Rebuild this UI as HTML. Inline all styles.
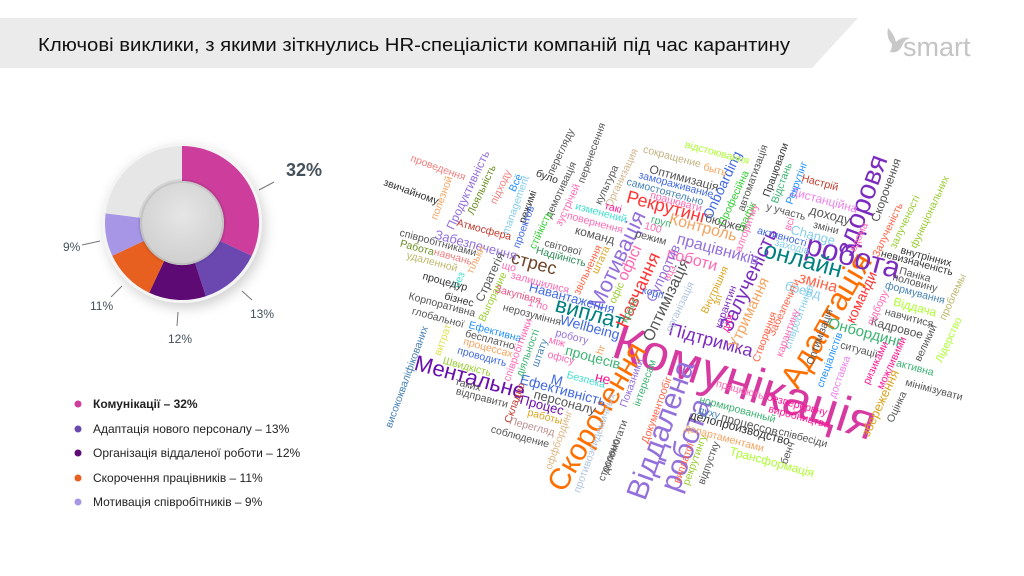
<!DOCTYPE html>
<html><head><meta charset="utf-8"><style>
html,body{margin:0;padding:0;background:#fff;}
svg{display:block;font-family:"Liberation Sans","DejaVu Sans",sans-serif;}
</style></head><body>
<svg width="1024" height="576" viewBox="0 0 1024 576" xmlns="http://www.w3.org/2000/svg">
<defs>
<filter id="sh" x="-30%" y="-30%" width="160%" height="160%"><feDropShadow dx="3" dy="5" stdDeviation="6" flood-color="#000" flood-opacity="0.18"/></filter>
<radialGradient id="hole" cx="50%" cy="40%" r="60%"><stop offset="0" stop-color="#e6e6e6"/><stop offset="1" stop-color="#cfcfcf"/></radialGradient>
</defs>
<path d="M0 18 H858 L812 68 H0 Z" fill="#ebebeb"/>
<text x="38" y="51" font-size="18.5" fill="#111" textLength="752" lengthAdjust="spacingAndGlyphs">Ключові виклики, з якими зіткнулись HR-спеціалісти компаній під час карантину</text>
<path d="M888 28 q6 6 8 14 q6 -6 14 -4 q-6 2 -8 8 q-4 8 -12 6 q2 -4 2 -8 q-6 -6 -4 -16z" fill="#c8c8c8"/>
<text x="903" y="56" font-size="27" fill="#c4c4c4" font-weight="300">smart</text>

<g filter="url(#sh)"><circle cx="182" cy="223" r="80" fill="#f4f4f4"/></g>
<path d="M182 146 A77 77 0 0 1 251.7 255.8 L220 240.9 A42 42 0 0 0 182 181Z" fill="#cc3d9c"/>
<path d="M251.7 255.8 A77 77 0 0 1 205.8 296.2 L195 263 A42 42 0 0 0 220 240.9Z" fill="#6a48b0"/>
<path d="M205.8 296.2 A77 77 0 0 1 149.2 292.7 L164.1 261 A42 42 0 0 0 195 263Z" fill="#5e0a75"/>
<path d="M149.2 292.7 A77 77 0 0 1 112.3 255.8 L144 240.9 A42 42 0 0 0 164.1 261Z" fill="#e8601f"/>
<path d="M112.3 255.8 A77 77 0 0 1 105.6 213.4 L140.3 217.7 A42 42 0 0 0 144 240.9Z" fill="#a796e6"/>
<path d="M105.6 213.4 A77 77 0 0 1 182 146 L182 181 A42 42 0 0 0 140.3 217.7Z" fill="#e6e6e6"/>
<circle cx="182" cy="223" r="42" fill="url(#hole)"/>
<circle cx="182" cy="223" r="42" fill="none" stroke="#000" stroke-opacity="0.08" stroke-width="4"/>
<g stroke="#777" stroke-width="1">
<line x1="259" y1="190" x2="274" y2="182"/><line x1="242" y1="291" x2="252" y2="300"/>
<line x1="178" y1="312" x2="177" y2="326"/><line x1="122" y1="286" x2="111" y2="297"/>
<line x1="100" y1="241" x2="82" y2="245"/></g>
<g fill="#44505a" font-size="12">
<text x="286" y="176" font-size="18" font-weight="bold">32%</text>
<text x="250" y="318">13%</text><text x="168" y="343">12%</text>
<text x="90" y="310">11%</text><text x="63" y="251">9%</text></g>

<g font-size="12" fill="#222">
<circle cx="78" cy="404" r="3.5" fill="#cc3d9c"/><text x="93" y="408" font-weight="bold">Комунікації – 32%</text>
<circle cx="78" cy="429" r="3.5" fill="#6a48b0"/><text x="93" y="433">Адаптація нового персоналу – 13%</text>
<circle cx="78" cy="453" r="3.5" fill="#5e0a75"/><text x="93" y="457">Організація віддаленої роботи – 12%</text>
<circle cx="78" cy="478" r="3.5" fill="#e8601f"/><text x="93" y="482">Скорочення працівників – 11%</text>
<circle cx="78" cy="502" r="3.5" fill="#a796e6"/><text x="93" y="506">Мотивація співробітників – 9%</text>
</g>

<g text-anchor="middle" dominant-baseline="central">
<text x="745" y="382" font-size="50" fill="#d63aa1" transform="rotate(18 745 382)">Комунікація</text>
<text x="597" y="417" font-size="30" fill="#ff6f00" transform="rotate(-60 597 417)">Скорочення</text>
<text x="661" y="430" font-size="30" fill="#9370db" transform="rotate(-70 661 430)">Віддалена</text>
<text x="686" y="445" font-size="30" fill="#9370db" transform="rotate(-70 686 445)">робота</text>
<text x="826" y="320" font-size="32" fill="#ff6f00" transform="rotate(-60 826 320)">Адаптація</text>
<text x="853" y="257" font-size="30" fill="#7b2cbf" transform="rotate(15 853 257)">робота</text>
<text x="861" y="205" font-size="28" fill="#7b2cbf" transform="rotate(-70 861 205)">здоровя</text>
<text x="803" y="260" font-size="24" fill="#008080" transform="rotate(15 803 260)">онлайн</text>
<text x="749" y="280" font-size="20" fill="#7b2cbf" transform="rotate(-65 749 280)">Залученість</text>
<text x="617" y="260" font-size="22" fill="#9370db" transform="rotate(-65 617 260)">Мотивація</text>
<text x="470" y="377" font-size="22" fill="#6a0dad" transform="rotate(15 470 377)">Ментальне</text>
<text x="667" y="207" font-size="18" fill="#ff3333" transform="rotate(15 667 207)">Рекрутинг</text>
<text x="590" y="313" font-size="22" fill="#008080" transform="rotate(15 590 313)">виплат</text>
<text x="711" y="340" font-size="18" fill="#7b2cbf" transform="rotate(15 711 340)">Підтримка</text>
<text x="534" y="263" font-size="18" fill="#6b4226" transform="rotate(15 534 263)">стрес</text>
<text x="638" y="290" font-size="18" fill="#ff3333" transform="rotate(-65 638 290)">Навчання</text>
<text x="667" y="300" font-size="16" fill="#555" transform="rotate(-65 667 300)">Оптимізація</text>
<text x="749" y="313" font-size="15" fill="#f4a460" transform="rotate(-65 749 313)">Утримання</text>
<text x="703" y="228" font-size="16" fill="#f4a460" transform="rotate(15 703 228)">Контроль</text>
<text x="692" y="260" font-size="16" fill="#ff69b4" transform="rotate(15 692 260)">роботи</text>
<text x="718" y="250" font-size="16" fill="#9370db" transform="rotate(15 718 250)">працівників</text>
<text x="818" y="283" font-size="16" fill="#ff6347" transform="rotate(15 818 283)">зміна</text>
<text x="865" y="333" font-size="15" fill="#3cb371" transform="rotate(15 865 333)">Онбординг</text>
<text x="722" y="185" font-size="14" fill="#4169e1" transform="rotate(-65 722 185)">Onboarding</text>
<text x="663" y="273" font-size="14" fill="#9370db" transform="rotate(-65 663 273)">Супротив</text>
<text x="630" y="263" font-size="16" fill="#ff69b4" transform="rotate(-65 630 263)">офісі</text>
<text x="861" y="297" font-size="14" fill="#ff3333" transform="rotate(-65 861 297)">команди</text>
<text x="572" y="298" font-size="13" fill="#4169e1" transform="rotate(15 572 298)">Навантаження</text>
<text x="590" y="327" font-size="14" fill="#4169e1" transform="rotate(15 590 327)">Wellbeing</text>
<text x="593" y="357" font-size="14" fill="#3cb371" transform="rotate(15 593 357)">процесів</text>
<text x="563" y="390" font-size="14" fill="#4169e1" transform="rotate(15 563 390)">Ефективність</text>
<text x="880" y="403" font-size="13" fill="#daa520" transform="rotate(-65 880 403)">збереження</text>
<text x="476" y="245" font-size="13" fill="#9370db" transform="rotate(15 476 245)">Забезпечення</text>
<text x="468" y="190" font-size="12" fill="#9370db" transform="rotate(-65 468 190)">Продуктивність</text>
<text x="813" y="235" font-size="13" fill="#87ceeb" transform="rotate(15 813 235)">Change</text>
<text x="830" y="215" font-size="13" fill="#555" transform="rotate(15 830 215)">доходу</text>
<text x="803" y="290" font-size="13" fill="#87ceeb" transform="rotate(15 803 290)">бренд</text>
<text x="897" y="328" font-size="12" fill="#555" transform="rotate(15 897 328)">Кадровое</text>
<text x="915" y="307" font-size="12" fill="#adff2f" transform="rotate(15 915 307)">Віддача</text>
<text x="684" y="178" font-size="12" fill="#555" transform="rotate(15 684 178)">Оптимизація</text>
<text x="824" y="200" font-size="12" fill="#ee82ee" transform="rotate(15 824 200)">Дистанційна</text>
<text x="886" y="190" font-size="12" fill="#555" transform="rotate(-70 886 190)">Скорочення</text>
<text x="726" y="223" font-size="12" fill="#555" transform="rotate(15 726 223)">бюджет</text>
<text x="595" y="235" font-size="12" fill="#555" transform="rotate(15 595 235)">команд</text>
<text x="490" y="277" font-size="12" fill="#555" transform="rotate(-65 490 277)">Стратегія</text>
<text x="740" y="428" font-size="12" fill="#333" transform="rotate(15 740 428)">делопроизводство</text>
<text x="753" y="425" font-size="12" fill="#555" transform="rotate(15 753 412)">процессов</text>
<text x="772" y="462" font-size="12" fill="#adff2f" transform="rotate(15 772 462)">Трансформація</text>
<text x="565" y="402" font-size="13" fill="#555" transform="rotate(15 565 402)">персоналу</text>
<text x="542" y="405" font-size="13" fill="#6a0dad" transform="rotate(15 542 405)">Процес</text>
<text x="603" y="378" font-size="14" fill="#ff1493" transform="rotate(15 603 378)">не</text>
<text x="557" y="380" font-size="14" fill="#4169e1" transform="rotate(15 557 380)">М</text>
<g font-size="10.5">
<text x="438" y="168" fill="#f08080" transform="rotate(20 438 168)">проведення</text>
<text x="442" y="198" fill="#f4a460" transform="rotate(-70 442 198)">полезной</text>
<text x="411" y="192" fill="#333" transform="rotate(20 411 192)">звичайному</text>
<text x="482" y="190" fill="#6b8e23" transform="rotate(-65 482 190)">Лояльність</text>
<text x="501" y="187" fill="#f08080" transform="rotate(-65 501 187)">підходу</text>
<text x="516" y="183" fill="#1e90ff" transform="rotate(-65 516 183)">Всё</text>
<text x="516" y="205" fill="#87ceeb" transform="rotate(-70 516 205)">management</text>
<text x="528" y="207" fill="#333" transform="rotate(-70 528 207)">режимі</text>
<text x="524" y="227" fill="#4169e1" transform="rotate(-70 524 227)">проектов</text>
<text x="547" y="177" fill="#333" transform="rotate(20 547 177)">було</text>
<text x="561" y="152" fill="#555" transform="rotate(-65 561 152)">перегляду</text>
<text x="561" y="190" fill="#555" transform="rotate(-65 561 190)">демотивація</text>
<text x="592" y="153" fill="#555" transform="rotate(-70 592 153)">перенесення</text>
<text x="568" y="205" fill="#ff69b4" transform="rotate(-65 568 205)">зустрічей</text>
<text x="484" y="230" fill="#c0392b" transform="rotate(15 484 230)">Атмосфера</text>
<text x="438" y="243" fill="#555" transform="rotate(15 438 243)">співробітниками</text>
<text x="417" y="248" fill="#6b8e23" transform="rotate(15 417 248)">Работа</text>
<text x="453" y="257" fill="#f08080" transform="rotate(15 453 257)">навчань</text>
<text x="432" y="262" fill="#bdb76b" transform="rotate(15 432 262)">удаленной</text>
<text x="476" y="260" fill="#f4a460" transform="rotate(-65 476 260)">тільки</text>
<text x="459" y="280" fill="#40e0d0" transform="rotate(-65 459 280)">без</text>
<text x="541" y="230" fill="#32cd32" transform="rotate(-65 541 230)">стійкість</text>
<text x="561" y="257" fill="#2e8b57" transform="rotate(15 561 257)">Надійність</text>
<text x="565" y="248" fill="#555" transform="rotate(15 565 240)">світової</text>
<text x="509" y="267" fill="#ff69b4" transform="rotate(15 509 267)">що</text>
<text x="540" y="283" fill="#ff69b4" transform="rotate(15 540 283)">залишилися</text>
<text x="445" y="282" fill="#333" transform="rotate(15 445 282)">процедур</text>
<text x="459" y="300" fill="#333" transform="rotate(15 459 300)">бізнес</text>
<text x="442" y="305" fill="#555" transform="rotate(15 442 305)">Корпоративна</text>
<text x="493" y="297" fill="#9acd32" transform="rotate(-65 493 297)">Выгорание</text>
<text x="518" y="295" fill="#e75480" transform="rotate(15 518 295)">Закупівля</text>
<text x="538" y="305" fill="#ff69b4" transform="rotate(15 538 305)">1 по</text>
<text x="438" y="318" fill="#555" transform="rotate(15 438 318)">глобальної</text>
<text x="532" y="315" fill="#555" transform="rotate(15 532 315)">нерозуміння</text>
<text x="607" y="185" fill="#555" transform="rotate(-65 607 185)">культура</text>
<text x="622" y="178" fill="#d2b48c" transform="rotate(-65 622 178)">Организация</text>
<text x="672" y="157" fill="#c2b280" transform="rotate(15 672 157)">сокращение</text>
<text x="717" y="153" fill="#adff2f" transform="rotate(15 717 153)">відстоювання</text>
<text x="715" y="170" fill="#f4a460" transform="rotate(15 715 170)">быть</text>
<text x="676" y="185" fill="#4169e1" transform="rotate(15 676 185)">замораживание</text>
<text x="665" y="192" fill="#4682b4" transform="rotate(15 665 192)">самостоятельно</text>
<text x="676" y="202" fill="#ff69b4" transform="rotate(15 676 202)">працювати</text>
<text x="734" y="198" fill="#32cd32" transform="rotate(-65 734 198)">Професійна</text>
<text x="753" y="178" fill="#555" transform="rotate(-70 753 178)">автоматизація</text>
<text x="776" y="170" fill="#333" transform="rotate(-70 776 170)">Працювали</text>
<text x="782" y="183" fill="#3cb371" transform="rotate(-70 782 183)">Відстань</text>
<text x="797" y="183" fill="#1e90ff" transform="rotate(-70 797 183)">Рекрутінг</text>
<text x="820" y="183" fill="#c0392b" transform="rotate(15 820 183)">Настрій</text>
<text x="601" y="213" fill="#40e0d0" transform="rotate(15 601 213)">изменений</text>
<text x="613" y="208" fill="#ff1493" transform="rotate(15 613 208)">такі</text>
<text x="595" y="223" fill="#ff69b4" transform="rotate(15 595 223)">повернення</text>
<text x="661" y="222" fill="#3cb371" transform="rotate(15 661 222)">груп</text>
<text x="653" y="228" fill="#ff69b4" transform="rotate(15 653 228)">100</text>
<text x="651" y="238" fill="#555" transform="rotate(15 651 238)">режим</text>
<text x="747" y="217" fill="#32cd32" transform="rotate(-65 747 217)">графік</text>
<text x="747" y="228" fill="#ff69b4" transform="rotate(-70 747 228)">алгоритму</text>
<text x="786" y="212" fill="#555" transform="rotate(15 786 212)">у участь</text>
<text x="826" y="228" fill="#555" transform="rotate(15 826 228)">зміни</text>
<text x="782" y="237" fill="#4169e1" transform="rotate(15 782 237)">активності</text>
<text x="784" y="228" fill="#ff69b4" transform="rotate(-70 784 222)">всі</text>
<text x="792" y="247" fill="#87ceeb" transform="rotate(15 792 247)">заходів</text>
<text x="588" y="270" fill="#ff6347" transform="rotate(-65 588 270)">звільнення</text>
<text x="601" y="260" fill="#daa520" transform="rotate(-65 601 260)">штата</text>
<text x="859" y="237" fill="#ff69b4" transform="rotate(-65 859 237)">вдома</text>
<text x="888" y="230" fill="#ff6347" transform="rotate(-65 888 230)">Залученість</text>
<text x="905" y="222" fill="#9acd32" transform="rotate(-65 905 222)">залученості</text>
<text x="930" y="212" fill="#9acd32" transform="rotate(-65 930 212)">функціональних</text>
<text x="926" y="257" fill="#333" transform="rotate(15 926 257)">внутрінних</text>
<text x="917" y="263" fill="#333" transform="rotate(15 917 263)">невизначеність</text>
<text x="915" y="275" fill="#555" transform="rotate(15 915 275)">Паніка</text>
<text x="915" y="283" fill="#555" transform="rotate(15 915 283)">половину</text>
<text x="915" y="293" fill="#4682b4" transform="rotate(15 915 293)">формування</text>
<text x="909" y="318" fill="#555" transform="rotate(15 909 318)">навчитися</text>
<text x="953" y="297" fill="#bdb76b" transform="rotate(-65 953 297)">проблемы</text>
<text x="878" y="308" fill="#ff69b4" transform="rotate(-65 878 308)">підбору</text>
<text x="926" y="343" fill="#555" transform="rotate(-65 926 343)">великий</text>
<text x="949" y="340" fill="#adff2f" transform="rotate(-65 949 340)">Лідерство</text>
<text x="859" y="350" fill="#555" transform="rotate(15 859 350)">ситуації</text>
<text x="915" y="368" fill="#3cb371" transform="rotate(15 915 368)">активна</text>
<text x="876" y="363" fill="#ff1493" transform="rotate(-65 876 363)">ризиками</text>
<text x="892" y="363" fill="#ff1493" transform="rotate(-65 892 363)">можливими</text>
<text x="934" y="390" fill="#555" transform="rotate(15 934 390)">мінімізувати</text>
<text x="897" y="407" fill="#555" transform="rotate(-65 897 407)">Оцінка</text>
<text x="495" y="332" fill="#1e90ff" transform="rotate(15 495 332)">Ефективна</text>
<text x="490" y="340" fill="#555" transform="rotate(15 490 340)">бесплатно</text>
<text x="488" y="348" fill="#f4a460" transform="rotate(15 488 348)">процессах</text>
<text x="482" y="357" fill="#4169e1" transform="rotate(15 482 357)">проводить</text>
<text x="467" y="367" fill="#9acd32" transform="rotate(15 467 367)">Швидкість</text>
<text x="443" y="340" fill="#e0e050" transform="rotate(-70 443 340)">витрат</text>
<text x="407" y="377" fill="#4682b4" transform="rotate(-70 407 377)">висококваліфікованих</text>
<text x="518" y="350" fill="#ff69b4" transform="rotate(-70 518 350)">співробітники</text>
<text x="528" y="353" fill="#3cb371" transform="rotate(-70 528 353)">діяльності</text>
<text x="540" y="353" fill="#4682b4" transform="rotate(-70 540 353)">штату</text>
<text x="572" y="337" fill="#9370db" transform="rotate(15 572 337)">роботу</text>
<text x="557" y="342" fill="#ff69b4" transform="rotate(15 557 342)">між</text>
<text x="561" y="358" fill="#ff69b4" transform="rotate(15 561 358)">офісу</text>
<text x="601" y="350" fill="#f4a460" transform="rotate(-70 601 350)">hr</text>
<text x="468" y="385" fill="#555" transform="rotate(15 468 385)">таких</text>
<text x="482" y="398" fill="#555" transform="rotate(15 482 398)">відправити</text>
<text x="515" y="403" fill="#c0392b" transform="rotate(-70 515 403)">Складно</text>
<text x="586" y="380" fill="#40e0d0" transform="rotate(15 586 380)">Безпека</text>
<text x="545" y="417" fill="#daa520" transform="rotate(15 545 417)">работы</text>
<text x="532" y="427" fill="#bc8f8f" transform="rotate(15 532 427)">Перегляд</text>
<text x="520" y="437" fill="#555" transform="rotate(15 520 437)">соблюдение</text>
<text x="559" y="440" fill="#deb887" transform="rotate(-70 559 440)">оффбординг</text>
<text x="632" y="383" fill="#9370db" transform="rotate(-70 632 383)">Показники</text>
<text x="645" y="383" fill="#3cb371" transform="rotate(-70 645 383)">інтересам</text>
<text x="595" y="443" fill="#b0c4de" transform="rotate(-70 595 443)">противоэпидемичных</text>
<text x="615" y="447" fill="#555" transform="rotate(-70 615 447)">допомогати</text>
<text x="609" y="460" fill="#555" transform="rotate(-70 609 460)">стосовно</text>
<text x="657" y="410" fill="#ff6347" transform="rotate(-70 657 410)">Документообіг</text>
<text x="684" y="463" fill="#ff6347" transform="rotate(-70 684 463)">виплатої</text>
<text x="695" y="460" fill="#9acd32" transform="rotate(-70 695 460)">рекрутингу</text>
<text x="709" y="463" fill="#555" transform="rotate(-70 709 463)">відпустку</text>
<text x="709" y="413" fill="#4682b4" transform="rotate(15 709 413)">духу</text>
<text x="722" y="438" fill="#f4a460" transform="rotate(15 722 446)">департаментами</text>
<text x="740" y="410" fill="#3cb371" transform="rotate(15 740 400)">нормированный</text>
<text x="740" y="390" fill="#ff69b4" transform="rotate(15 740 390)">працюють</text>
<text x="797" y="405" fill="#ff1493" transform="rotate(15 797 405)">безперервну</text>
<text x="799" y="417" fill="#ff1493" transform="rotate(15 799 417)">виробництва</text>
<text x="803" y="438" fill="#555" transform="rotate(15 803 438)">співбесіди</text>
<text x="788" y="453" fill="#555" transform="rotate(-70 788 453)">бенч</text>
<text x="830" y="360" fill="#1e90ff" transform="rotate(-70 830 360)">спеціалістів</text>
<text x="840" y="377" fill="#ee82ee" transform="rotate(-70 840 377)">доставка</text>
<text x="820" y="337" fill="#555" transform="rotate(-70 820 337)">Оптимізація</text>
<text x="799" y="317" fill="#87ceeb" transform="rotate(-70 799 317)">співробітників</text>
<text x="788" y="333" fill="#ff69b4" transform="rotate(-70 788 333)">карантину</text>
<text x="765" y="337" fill="#ff6347" transform="rotate(-70 765 337)">Створення</text>
<text x="768" y="318" fill="#ff6347" transform="rotate(-65 768 300)">Забезпечити</text>
<text x="728" y="323" fill="#ff1493" transform="rotate(-70 728 323)">для</text>
<text x="726" y="307" fill="#7b2cbf" transform="rotate(-70 726 307)">карантин</text>
<text x="715" y="290" fill="#daa520" transform="rotate(-65 715 290)">Внутрішня</text>
<text x="718" y="300" fill="#daa520" transform="rotate(-70 718 300)">зп</text>
<text x="680" y="307" fill="#b0c4de" transform="rotate(-65 680 307)">організація</text>
<text x="670" y="273" fill="#ff69b4" transform="rotate(-65 670 273)">зцз</text>
<text x="653" y="293" fill="#4169e1" transform="rotate(15 653 293)">корп</text>
<text x="630" y="310" fill="#3cb371" transform="rotate(-65 630 310)">кросс</text>
<text x="617" y="293" fill="#9acd32" transform="rotate(-65 617 293)">офіс</text>
</g>
</g>
</svg>
</body></html>
